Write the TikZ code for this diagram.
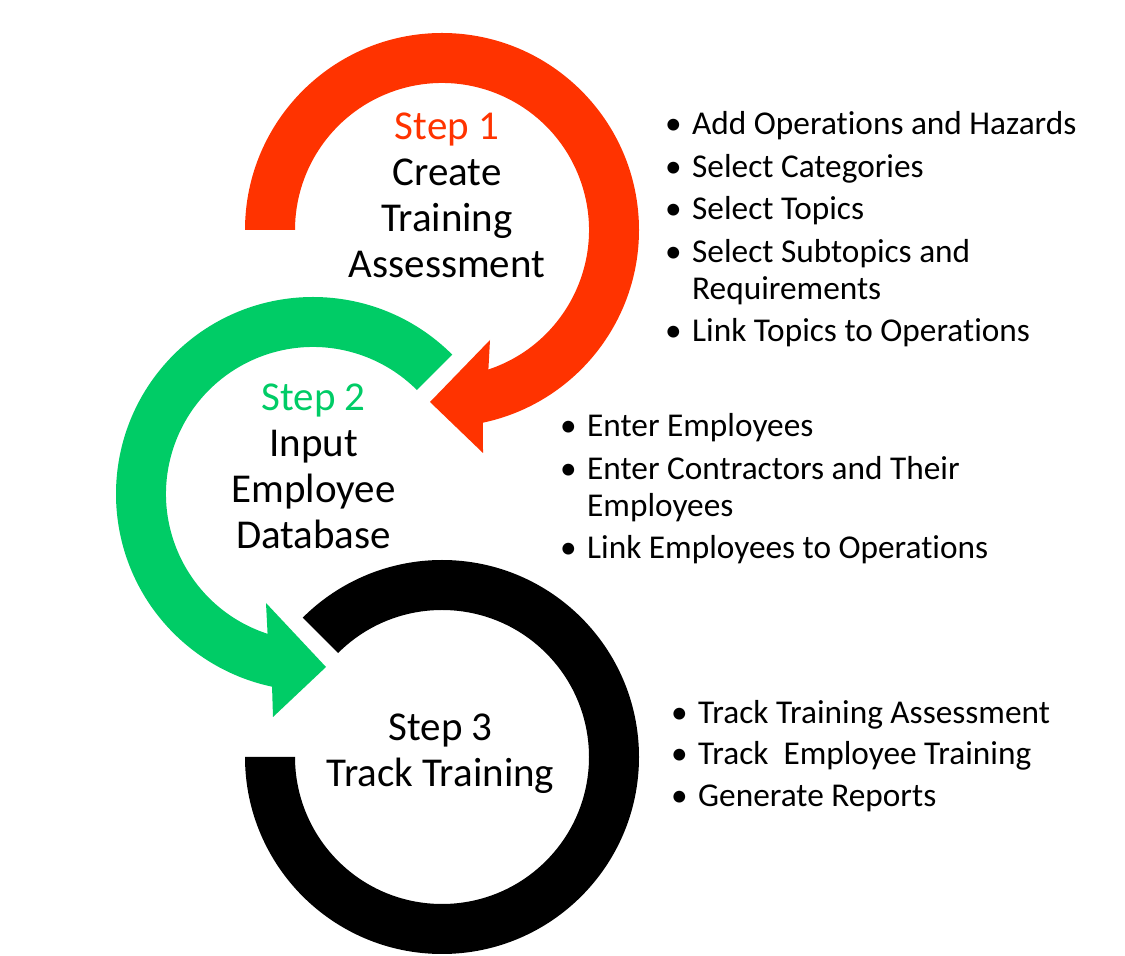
\documentclass[tikz,border=0pt]{standalone}
\usepackage{fontspec}
\setmainfont{Carlito}[Ligatures=NoCommon]
\definecolor{stepred}{RGB}{255,51,0}
\definecolor{stepgreen}{RGB}{0,204,102}
\newcommand{\bul}{\makebox[27pt][l]{\textbullet}}
\newcommand{\hang}{\hspace*{27pt}}
\begin{document}
\begin{tikzpicture}[x=1pt,y=1pt,
	steptext/.style={align=center,inner sep=0pt,anchor=base,font=\fontsize{41}{46}\selectfont},
	bullets/.style={align=left,inner sep=0pt,anchor=base west,font=\fontsize{33.3}{36.7}\selectfont}]
	\useasboundingbox (0,0) rectangle (1125,956);
	\def\R{197}
	\def\r{147}
	\coordinate (c1) at (442,726);
	\coordinate (c2) at (313,462);
	\coordinate (c3) at (442,199);
	% step 1 ring
	\fill[stepred] ([shift={(180:\R)}]c1) arc[start angle=180,end angle=-78,radius=\R]
		-- (483,503) -- (430,554) -- (490,616)
		-- ([shift={(-71.6:\r)}]c1) arc[start angle=-71.6,end angle=180,radius=\r] -- cycle;
	% step 2 ring
	\fill[stepgreen] ([shift={(45:\r)}]c2) -- ([shift={(45:\R)}]c2)
		arc[start angle=45,end angle=258,radius=\R]
		-- (273,239) -- (326,289) -- (266,353)
		-- ([shift={(252:\r)}]c2) arc[start angle=252,end angle=45,radius=\r] -- cycle;
	% step 3 ring
	\fill[black] ([shift={(180:\R)}]c3) arc[start angle=180,end angle=495,radius=\R]
		-- ([shift={(135:\r)}]c3) arc[start angle=495,end angle=180,radius=\r] -- cycle;
	% labels (base = last line)
	\node[steptext] (step1) at (447,678) {\textcolor{stepred}{Step 1}\\Create\\Training\\Assessment};
	\node[steptext] (step2) at (313.5,407) {\textcolor{stepgreen}{Step 2}\\Input\\Employee\\Database};
	\node[steptext] (step3) at (440.5,169.5) {Step 3\\Track Training};
	\node[bullets] (list1) at (665,614) {\bul Add Operations and Hazards\\[6pt]
		\bul Select Categories\\[6pt]
		\bul Select Topics\\[6pt]
		\bul Select Subtopics and\\
		\hang Requirements\\[6pt]
		\bul Link Topics to Operations};
	\node[bullets] (list2) at (560,397) {\bul Enter Employees\\[6pt]
		\bul Enter Contractors and Their\\
		\hang Employees\\[6pt]
		\bul Link Employees to Operations};
	\node[bullets] (list3) at (671,149.5) {\bul Track Training Assessment\\[5pt]
		\bul Track\ \ Employee Training\\[5pt]
		\bul Generate Reports};
\end{tikzpicture}
\end{document}
